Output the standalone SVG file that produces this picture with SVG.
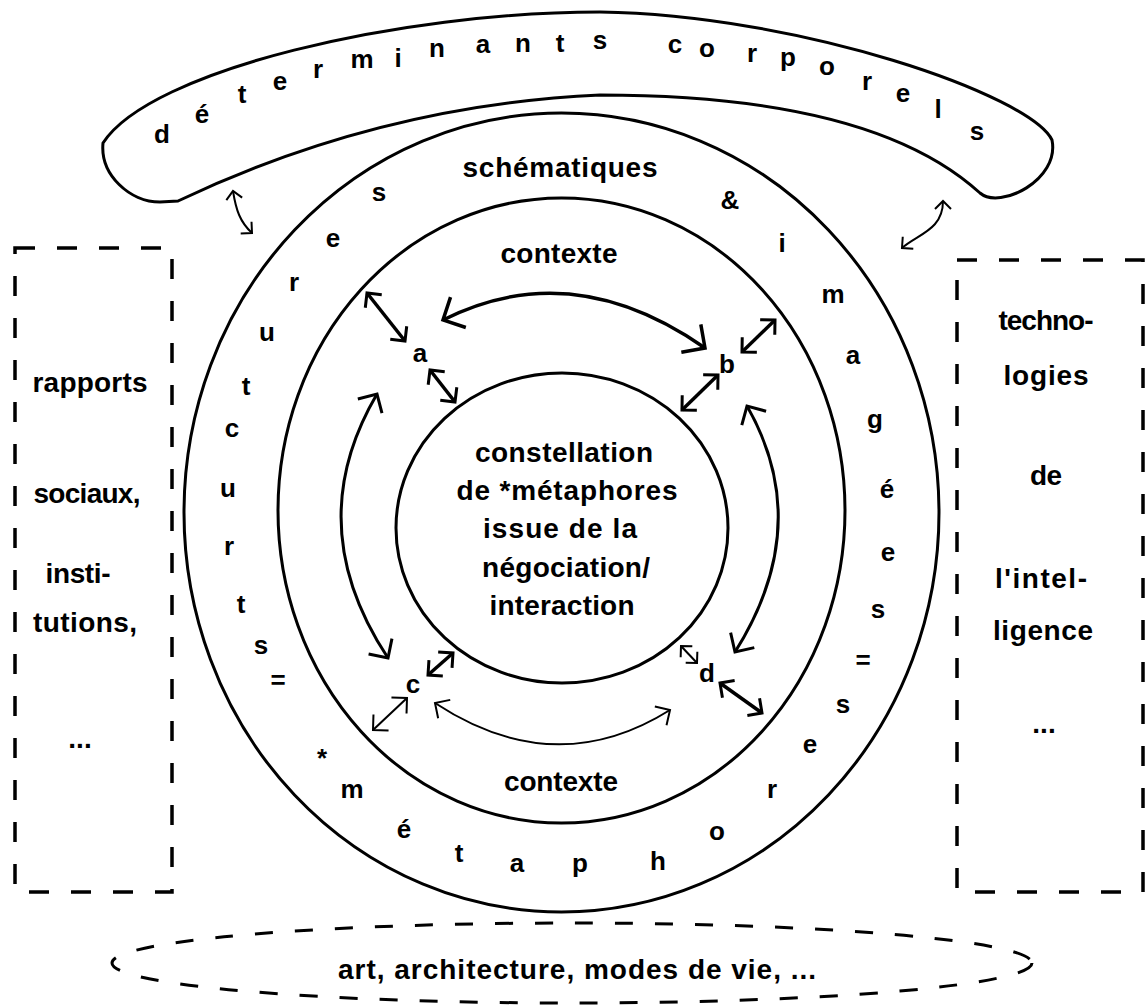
<svg xmlns="http://www.w3.org/2000/svg" width="1146" height="1008" viewBox="0 0 1146 1008">
<style>
.t{font-family:"Liberation Sans",Arial,sans-serif;font-weight:bold;font-size:28px;fill:#000;text-anchor:middle}
.l{font-family:"Liberation Sans",Arial,sans-serif;font-weight:bold;font-size:26px;fill:#000;text-anchor:middle}
.ln{fill:none;stroke:#000;stroke-width:3}
.dash{fill:none;stroke:#000;stroke-width:3.5;stroke-dasharray:20 22}
.bold{fill:none;stroke:#000;stroke-width:3.5;marker-start:url(#mS);marker-end:url(#mS)}
.thin{fill:none;stroke:#000;stroke-width:2;marker-start:url(#mT);marker-end:url(#mT)}
.big{fill:none;stroke:#000;stroke-width:3.5;marker-start:url(#mB);marker-end:url(#mB)}
.med{fill:none;stroke:#000;stroke-width:3;marker-start:url(#mM);marker-end:url(#mM)}
.sm{fill:none;stroke:#000;stroke-width:2;marker-start:url(#mX);marker-end:url(#mX)}
</style>
<defs>
<marker id="mB" viewBox="-20 -20 24 40" refX="0" refY="0" markerWidth="24" markerHeight="40" markerUnits="userSpaceOnUse" orient="auto-start-reverse"><path d="M-17,-17 L0,0 L-17,17" fill="none" stroke="#000" stroke-width="3.5"/></marker>
<marker id="mM" viewBox="-18 -18 22 36" refX="0" refY="0" markerWidth="22" markerHeight="36" markerUnits="userSpaceOnUse" orient="auto-start-reverse"><path d="M-14,-14 L0,0 L-14,14" fill="none" stroke="#000" stroke-width="3"/></marker>
<marker id="mS" viewBox="-14 -14 18 28" refX="0" refY="0" markerWidth="18" markerHeight="28" markerUnits="userSpaceOnUse" orient="auto-start-reverse"><path d="M-10.5,-10.5 L0,0 L-10.5,10.5" fill="none" stroke="#000" stroke-width="3"/></marker>
<marker id="mT" viewBox="-14 -14 18 28" refX="0" refY="0" markerWidth="18" markerHeight="28" markerUnits="userSpaceOnUse" orient="auto-start-reverse"><path d="M-11,-11 L0,0 L-11,11" fill="none" stroke="#000" stroke-width="2"/></marker>
<marker id="mX" viewBox="-11 -11 14 22" refX="0" refY="0" markerWidth="14" markerHeight="22" markerUnits="userSpaceOnUse" orient="auto-start-reverse"><path d="M-8,-8 L0,0 L-8,8" fill="none" stroke="#000" stroke-width="2"/></marker>
</defs>
<rect width="1146" height="1008" fill="#fff"/>

<g id="banner">
<path class="ln" d="M178,201 Q380,105 600,95 C760,95 900,120 980,193 C1000,210 1060,180 1052,140 C1030,95 800,15 600,12 C400,12 150,70 103,143 C100,175 130,202 160,202 Z"/>
<text class="l" x="162" y="143">d</text><text class="l" x="202" y="123">é</text><text class="l" x="242" y="103">t</text><text class="l" x="280" y="90">e</text><text class="l" x="318" y="78">r</text><text class="l" x="362" y="68">m</text><text class="l" x="398" y="67">i</text><text class="l" x="437" y="57">n</text><text class="l" x="483" y="53">a</text><text class="l" x="523" y="52">n</text><text class="l" x="560" y="52">t</text><text class="l" x="600" y="49">s</text><text class="l" x="675" y="53">c</text><text class="l" x="707" y="57">o</text><text class="l" x="752" y="62">r</text><text class="l" x="788" y="66">p</text><text class="l" x="827" y="75">o</text><text class="l" x="867" y="90">r</text><text class="l" x="903" y="102">e</text><text class="l" x="938" y="118">l</text><text class="l" x="977" y="140">s</text>
</g>

<g id="outer-ring">
<ellipse class="ln" cx="561.5" cy="512.5" rx="377.5" ry="399.5"/>
<text class="t" x="560" y="177" textLength="195">schématiques</text>
<text class="l" x="379" y="201">s</text><text class="l" x="333" y="247">e</text><text class="l" x="294" y="291">r</text><text class="l" x="267" y="341">u</text><text class="l" x="246" y="395">t</text><text class="l" x="232" y="437">c</text><text class="l" x="228" y="497">u</text><text class="l" x="229" y="555">r</text><text class="l" x="241" y="613">t</text><text class="l" x="261" y="654">s</text><text class="l" x="278" y="689">=</text>
<text class="l" x="322" y="767">*</text><text class="l" x="352" y="798">m</text><text class="l" x="404" y="838">é</text><text class="l" x="459" y="862">t</text><text class="l" x="517" y="872">a</text><text class="l" x="580" y="872">p</text><text class="l" x="658" y="870">h</text><text class="l" x="717" y="840">o</text><text class="l" x="772" y="798">r</text><text class="l" x="810" y="753">e</text><text class="l" x="843" y="713">s</text><text class="l" x="863" y="669">=</text>
<text class="l" x="878" y="618">s</text><text class="l" x="888" y="561">e</text><text class="l" x="887" y="498">é</text><text class="l" x="875" y="428">g</text><text class="l" x="853" y="364">a</text><text class="l" x="833" y="303">m</text><text class="l" x="782" y="252">i</text><text class="l" x="730" y="209">&amp;</text>
</g>

<g id="middle-ring">
<ellipse class="ln" cx="561.5" cy="510.5" rx="283.5" ry="312.5"/>
<text class="t" x="559" y="263" textLength="117">contexte</text>
<text class="t" x="561" y="791" textLength="114">contexte</text>
</g>

<g id="inner-circle">
<ellipse class="ln" cx="562" cy="528" rx="166" ry="155"/>
<text class="t" x="564" y="462" textLength="178">constellation</text>
<text class="t" x="567" y="500" textLength="221">de *métaphores</text>
<text class="t" x="560" y="538" textLength="154">issue de la</text>
<text class="t" x="566" y="577" textLength="168">négociation/</text>
<text class="t" x="562" y="615" textLength="145">interaction</text>
</g>

<g id="point-a"><text class="l" x="420" y="362">a</text></g>
<g id="point-b"><text class="l" x="727" y="373">b</text></g>
<g id="point-c"><text class="l" x="413" y="693">c</text></g>
<g id="point-d"><text class="l" x="707" y="682">d</text></g>

<g id="box-left">
<rect class="dash" x="15" y="248" width="157" height="644"/>
<text class="t" x="90" y="392" textLength="115">rapports</text>
<text class="t" x="87" y="503" textLength="107">sociaux,</text>
<text class="t" x="78" y="583" textLength="65">insti-</text>
<text class="t" x="85" y="632" textLength="104">tutions,</text>
<text class="t" x="80" y="748">...</text>
</g>

<g id="box-right">
<rect class="dash" x="957" y="260" width="186" height="632"/>
<text class="t" x="1046" y="330" textLength="95">techno-</text>
<text class="t" x="1046" y="385" textLength="85">logies</text>
<text class="t" x="1046" y="485" textLength="32">de</text>
<text class="t" x="1041" y="588" textLength="92">l'intel-</text>
<text class="t" x="1043" y="640" textLength="100">ligence</text>
<text class="t" x="1044" y="733">...</text>
</g>

<g id="bottom-ellipse">
<ellipse class="dash" cx="572" cy="963" rx="460" ry="40" style="stroke-width:3;stroke-dasharray:18 22"/>
<text class="t" x="577" y="979" textLength="478">art, architecture, modes de vie, ...</text>
</g>

<g id="connectors">
<path class="big" d="M443,320 Q572,255 705,348"/>
<path class="thin" d="M435,703 Q555,782 670,710"/>
<path class="med" d="M377,394 Q300,525 388,658"/>
<path class="med" d="M747,406 Q815,525 735,652"/>
<path class="bold" d="M367,293 L405,341"/>
<path class="bold" d="M430,370 L455,402"/>
<path class="bold" d="M742,352 L775,320"/>
<path class="bold" d="M682,410 L718,375"/>
<path class="bold" d="M428,675 L453,653"/>
<path class="thin" d="M373,730 L407,698"/>
<path class="sm" d="M681,646 L697,663"/>
<path class="bold" d="M720,683 L762,713"/>
<path class="sm" d="M233,191 C236,210 240,222 252,233"/>
<path class="sm" d="M902,248 C918,234 943,230 943,201"/>
</g>
</svg>
